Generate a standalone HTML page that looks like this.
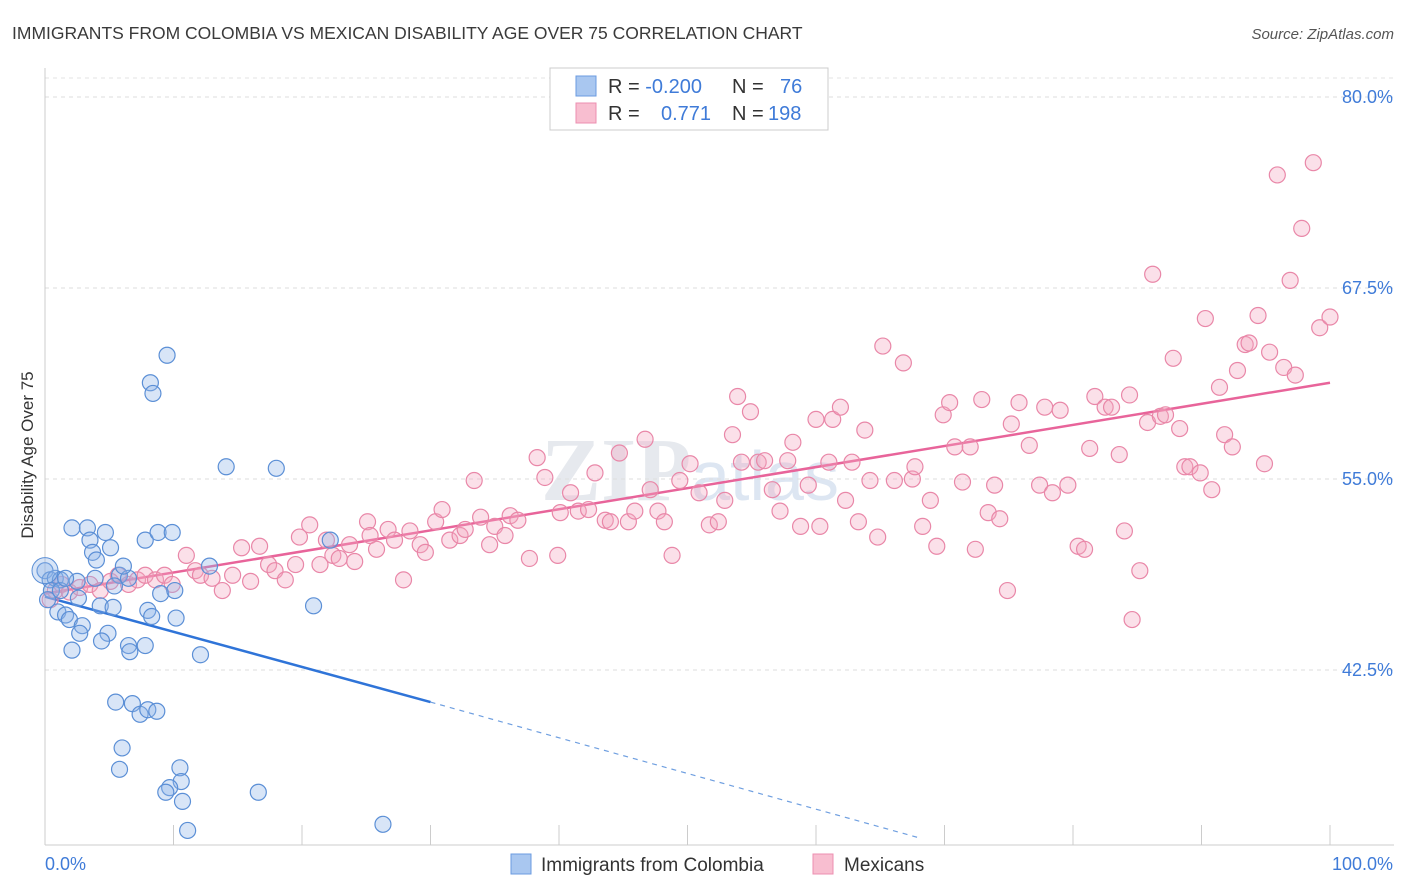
<!DOCTYPE html>
<html><head><meta charset="utf-8"><style>
body{margin:0;background:#fff;font-family:"Liberation Sans",sans-serif;}
svg{display:block}
</style></head><body>
<svg id="chart" width="1406" height="892">
<text x="12" y="39" font-size="17.5" fill="#3a3a3a">IMMIGRANTS FROM COLOMBIA VS MEXICAN DISABILITY AGE OVER 75 CORRELATION CHART</text>
<text x="1394" y="39" font-size="15" fill="#555" font-style="italic" text-anchor="end">Source: ZipAtlas.com</text>
<text x="690" y="500" font-size="90" fill="#e6e9ee" text-anchor="middle" font-family="Liberation Serif" font-weight="bold">ZIP<tspan font-family="Liberation Sans" font-weight="normal" font-size="70" fill="#dde6f2">atlas</tspan></text>
<g id="grid"></g>
<g id="axes"></g>
<g id="lines"></g>
<g id="pts"></g>
<text transform="translate(33,455) rotate(-90)" font-size="17" fill="#333" text-anchor="middle">Disability Age Over 75</text>
<g>
<rect x="550" y="68" width="278" height="62" fill="#fff" stroke="#ccc"/>
<rect x="576" y="76" width="20" height="20" fill="#a9c7f0" stroke="#6b9be0"/>
<rect x="576" y="103" width="20" height="20" fill="#f8bed0" stroke="#ec8fb0"/>
<text x="608" y="93" font-size="20" fill="#333">R = <tspan fill="#3f7bd8">-0.200</tspan><tspan x="732">N = </tspan><tspan x="780" fill="#3f7bd8">76</tspan></text>
<text x="608" y="120" font-size="20" fill="#333">R = <tspan x="661" fill="#3f7bd8">0.771</tspan><tspan x="732">N = </tspan><tspan x="768" fill="#3f7bd8">198</tspan></text>
</g>
<g><rect x="511" y="854" width="20" height="20" fill="#a9c7f0" stroke="#6b9be0"/><text x="541" y="871" font-size="19" fill="#333">Immigrants from Colombia</text></g>
<g><rect x="813" y="854" width="20" height="20" fill="#f8bed0" stroke="#ec8fb0"/><text x="844" y="871" font-size="19" fill="#333">Mexicans</text></g>
</svg>
<script>
const yTicks=[42.5,55.0,67.5,80.0];
const xTickLabels=["0.0%","100.0%"];
const blueX=[0,0.4,0.8,1.2,0.5,0.2,1,1.6,1.9,2.1,3.3,3.5,3.7,4.7,5.1,4.0,5.8,3.9,6.5,2.5,2.6,4.3,5.3,2.9,2.7,4.9,4.4,2.1,6.5,7.8,6.6,8.0,8.3,10.2,9.0,10.1,7.8,8.8,9.9,12.8,12.1,9.5,8.2,8.4,14.1,18.0,20.9,22.2,5.5,6.8,7.4,8.0,8.7,6.0,5.8,10.5,10.6,9.7,9.4,10.7,11.1,16.6,26.3,1.2,1.6,5.4,6.1];
const blueY=[49.0,48.4,48.5,48.4,47.7,47.1,46.3,46.1,45.8,51.8,51.8,51.0,50.2,51.5,50.5,49.7,48.7,48.5,48.5,48.3,47.2,46.7,46.6,45.4,44.9,44.9,44.4,43.8,44.1,44.1,43.7,46.4,46.0,45.9,47.5,47.7,51.0,51.5,51.5,49.3,43.5,63.1,61.3,60.6,55.8,55.7,46.7,51.0,40.4,40.3,39.6,39.9,39.8,37.4,36.0,36.1,35.2,34.8,34.5,33.9,32.0,34.5,32.4,47.7,48.5,48.0,49.3];
const pinkX=[0.4,0.8,1.3,1.9,2.7,3.5,4.3,5.1,5.7,6.5,7.2,7.8,8.6,9.3,9.9,11.0,11.7,12.1,13.0,13.8,14.6,15.3,16.0,16.7,17.4,17.9,18.7,19.5,19.8,20.6,21.4,21.9,22.4,22.9,23.7,24.1,25.1,25.3,25.8,26.7,27.2,27.9,28.4,29.2,29.6,30.4,30.9,31.5,32.3,32.7,33.4,33.9,34.6,35.0,35.8,36.2,36.8,37.7,38.3,38.9,39.9,40.1,40.9,41.5,42.3,42.8,43.6,44.0,44.7,45.4,45.9,46.7,47.1,47.7,48.2,48.8,49.4,50.2,50.9,51.7,52.4,52.9,53.5,53.9,54.2,54.9,55.5,56.0,56.6,57.2,57.8,58.2,58.8,59.4,60.0,60.3,61.0,61.3,61.9,62.3,62.8,63.3,63.8,64.2,64.8,65.2,66.1,66.8,67.5,67.7,68.3,68.9,69.4,69.9,70.4,70.8,71.4,72.0,72.4,72.9,73.4,73.9,74.3,74.9,75.2,75.8,76.6,77.4,77.8,78.4,79.0,79.6,80.4,80.9,81.3,81.7,82.5,83.0,83.6,84.0,84.4,84.6,85.2,85.8,86.2,86.8,87.2,87.8,88.3,88.7,89.1,89.9,90.3,90.8,91.4,91.8,92.4,92.8,93.4,93.7,94.4,94.9,95.3,95.9,96.4,96.9,97.3,97.8,98.7,99.2,100];
const pinkY=[47.1,47.7,48.1,47.6,47.9,48.1,47.7,48.3,48.7,48.1,48.4,48.7,48.4,48.7,48.1,50.0,49.0,48.7,48.5,47.7,48.7,50.5,48.3,50.6,49.4,49.0,48.4,49.4,51.2,52.0,49.4,51.0,50.0,49.8,50.7,49.6,52.2,51.3,50.4,51.7,51.0,48.4,51.6,50.7,50.2,52.2,53.0,51.0,51.3,51.7,54.9,52.5,50.7,51.9,51.3,52.6,52.3,49.8,56.4,55.1,50.0,52.8,54.1,52.9,53.0,55.4,52.3,52.2,56.7,52.2,52.9,57.6,54.3,52.9,52.2,50.0,54.9,56.0,54.1,52.0,52.2,53.6,57.9,60.4,56.1,59.4,56.1,56.2,54.3,52.9,56.2,57.4,51.9,54.6,58.9,51.9,56.1,58.9,59.7,53.6,56.1,52.2,58.2,54.9,51.2,63.7,54.9,62.6,55.0,55.8,51.9,53.6,50.6,59.2,60.0,57.1,54.8,57.1,50.4,60.2,52.8,54.6,52.4,47.7,58.6,60.0,57.2,54.6,59.7,54.1,59.5,54.6,50.6,50.4,57.0,60.4,59.7,59.7,56.6,51.6,60.5,45.8,49.0,58.7,68.4,59.1,59.2,62.9,58.3,55.8,55.8,55.4,65.5,54.3,61.0,57.9,57.1,62.1,63.8,63.9,65.7,56.0,63.3,74.9,62.3,68.0,61.8,71.4,75.7,64.9,65.6];
const blueFit=[[0,47.3],[30,40.4]];
const blueDash=[[30,40.4],[68.1,31.5]];
const pinkFit=[[0,47.5],[100,61.3]];
const NS="http://www.w3.org/2000/svg";
const X=v=>45+v*12.85;
const Y=v=>97+(80-v)*15.28;
function mk(t,a,p){const e=document.createElementNS(NS,t);for(const k in a)e.setAttribute(k,a[k]);p.appendChild(e);return e;}
const grid=document.getElementById('grid'),axes=document.getElementById('axes'),lines=document.getElementById('lines'),pts=document.getElementById('pts');
mk('line',{x1:45,y1:78,x2:1394,y2:78,stroke:'#e3e3e3','stroke-dasharray':'4,4'},grid);
yTicks.forEach(t=>{const l=mk('line',{x1:45,y1:Y(t),x2:1394,y2:Y(t),stroke:'#dedede','stroke-dasharray':'4,4'},grid);


const tx=mk('text',{x:1393,y:Y(t)+6,'font-size':18,fill:'#3f7bd8','text-anchor':'end'},axes);tx.textContent=t.toFixed(1)+'%';

});
mk('line',{x1:45,y1:68,x2:45,y2:845,stroke:'#ccc'},axes);
mk('line',{x1:45,y1:845,x2:1394,y2:845,stroke:'#ccc'},axes);
for(let i=0;i<=10;i++){mk('line',{x1:X(i*10),y1:825,x2:X(i*10),y2:845,stroke:'#ccc'},axes);}
const t0=mk('text',{x:45,y:870,'font-size':18,fill:'#3f7bd8'},axes);t0.textContent=xTickLabels[0];


const t1=mk('text',{x:1393,y:870,'font-size':18,fill:'#3f7bd8','text-anchor':'end'},axes);t1.textContent=xTickLabels[1];


function pt(xs,ys,fill,stroke,name){xs.forEach((x,i)=>{const c=mk('circle',{cx:X(x),cy:Y(ys[i]),r:8,fill:fill,'fill-opacity':0.35,stroke:stroke,'stroke-width':1.2},pts);

});}
pt(pinkX,pinkY,'#f4a6bf','#e987a8','mexican-point');
pt(blueX,blueY,'#8fb5e8','#5b8fd6','colombia-point');
const c0=mk('circle',{cx:X(0),cy:Y(49.0),r:13,fill:'#8fb5e8','fill-opacity':0.35,stroke:'#5b8fd6'},pts);


const bl=mk('line',{x1:X(blueFit[0][0]),y1:Y(blueFit[0][1]),x2:X(blueFit[1][0]),y2:Y(blueFit[1][1]),stroke:'#2f74d8','stroke-width':2.5},lines);


const bd=mk('line',{x1:X(blueDash[0][0]),y1:Y(blueDash[0][1]),x2:X(blueDash[1][0]),y2:Y(blueDash[1][1]),stroke:'#6f9fe0','stroke-width':1.2,'stroke-dasharray':'5,5'},lines);


const pl=mk('line',{x1:X(pinkFit[0][0]),y1:Y(pinkFit[0][1]),x2:X(pinkFit[1][0]),y2:Y(pinkFit[1][1]),stroke:'#e8649a','stroke-width':2.5},lines);


</script>
</body></html>
